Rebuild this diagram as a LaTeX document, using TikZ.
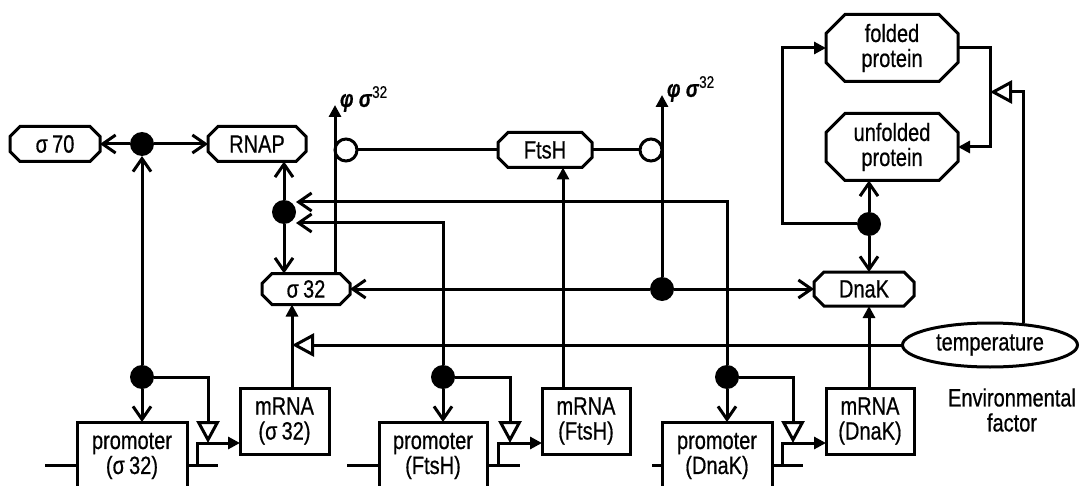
\documentclass[tikz,border=0pt]{standalone}
\usepackage{fontspec}
\setmainfont[FakeStretch=0.8,FakeBold=0.6]{Liberation Sans}
\usetikzlibrary{arrows.meta,shapes.geometric}
\tikzset{
  every node/.style={font=\fontsize{25}{25}\selectfont, align=center, inner sep=0pt, outer sep=0pt},
  octbox/.style={rectangle, draw=none},
  rbox/.style={rectangle, draw, fill=white},
  dot/.style={circle, fill, minimum size=24pt},
  ring/.style={circle, draw, fill=white, minimum size=22pt},
  oarr/.style={-{Straight Barb[length=13pt,width=18pt]}},
  farr/.style={-{Triangle[length=12pt,width=12pt]}},
  tarr/.style={-{Triangle[open,length=22pt,width=23pt]}},
  phil/.style={font=\fontsize{24}{24}\selectfont, anchor=west}
}
\newcommand{\octo}[2]{%
  \draw ([xshift=#2]#1.north west) -- ([xshift=-#2]#1.north east) -- ([yshift=-#2]#1.north east)
   -- ([yshift=#2]#1.south east) -- ([xshift=-#2]#1.south east) -- ([xshift=#2]#1.south west)
   -- ([yshift=#2]#1.south west) -- ([yshift=-#2]#1.north west) -- cycle;}
\begin{document}
\begin{tikzpicture}[x=1pt,y=-1pt,line width=3pt]
\useasboundingbox (0,0) rectangle (1083,486);
\clip (0,0) rectangle (1083,486);
% octagon nodes
\node[octbox,minimum width=90pt,minimum height=35pt] (s70) at (55,144) {σ\,70};
\node[octbox,minimum width=98pt,minimum height=35pt] (rnap) at (257,144) {RNAP};
\node[octbox,minimum width=88pt,minimum height=31pt] (s32) at (306,289) {σ\,32};
\node[octbox,minimum width=94pt,minimum height=35pt] (ftsh) at (545,150) {FtsH};
\node[octbox,minimum width=100pt,minimum height=34pt] (dnak) at (864,289) {DnaK};
\node[octbox,minimum width=132pt,minimum height=67pt] (fold) at (892,48) {folded\\protein};
\node[octbox,minimum width=132pt,minimum height=67pt] (unf) at (892,147) {unfolded\\protein};
\octo{s70}{10pt}
\octo{rnap}{10pt}
\octo{s32}{10pt}
\octo{ftsh}{10pt}
\octo{dnak}{10pt}
\octo{fold}{19pt}
\octo{unf}{19pt}
\node[ellipse,draw,minimum width=175pt,minimum height=44pt] (temp) at (990,345) {temperature};
\node (env) at (1012,410) {Environmental\\factor};
% boxes
\node[rbox,minimum width=110pt,minimum height=68pt] (p32) at (132,456) {promoter\\(σ\,32)};
\node[rbox,minimum width=108pt,minimum height=68pt] (pF) at (433,456) {promoter\\(FtsH)};
\node[rbox,minimum width=110pt,minimum height=68pt] (pK) at (717,456) {promoter\\(DnaK)};
\node[rbox,minimum width=89pt,minimum height=66pt] (m32) at (284.5,421) {mRNA\\(σ\,32)};
\node[rbox,minimum width=88pt,minimum height=66pt] (mF) at (586,421) {mRNA\\(FtsH)};
\node[rbox,minimum width=88pt,minimum height=66pt] (mK) at (870,421) {mRNA\\(DnaK)};
% dots
\node[dot] (d1) at (142,144) {};
\node[dot] (d2) at (284,212) {};
\node[dot] (d3) at (662,289) {};
\node[dot] (d4) at (869,224) {};
\node[dot] (q32) at (142,377) {};
\node[dot] (qF) at (443,377) {};
\node[dot] (qK) at (727,377) {};
\node[ring] (c1) at (346,150) {};
\node[ring] (c2) at (651,150) {};
% coordinates
\coordinate (phiL) at (335,105);
\coordinate (phiR) at (662,95);
\coordinate (t32) at (208,443);
\coordinate (tF) at (510,443);
\coordinate (tK) at (793,443);
\coordinate (b32) at (197,465);
\coordinate (bF) at (498,465);
\coordinate (bK) at (782,465);
\coordinate (jT) at (990,92);
\coordinate (l32a) at (45,465);
\coordinate (l32b) at (218,465);
\coordinate (lFa) at (347,465);
\coordinate (lFb) at (520,465);
\coordinate (lKa) at (652,465);
\coordinate (lKb) at (803,465);
% labels
\node[phil] (lbL) at (340,99) {\textbf{\textit{φ σ}}\textsuperscript{32}};
\node[phil] (lbR) at (667,89) {\textbf{\textit{φ σ}}\textsuperscript{32}};
% sigma70 / RNAP
\draw[oarr] (d1) -- (s70);
\draw[oarr] (d1) -- (rnap);
\draw[oarr] (q32) -- (d1);
\draw[oarr] (d2) -- (d2 |- rnap.south);
\draw[oarr] (d2) -- (d2 |- s32.north);
\draw[oarr] (qK) |- ([yshift=10pt]d2.east);
\draw[oarr] (qF) |- ([yshift=-11pt]d2.east);
% phi sigma32 and FtsH
\draw[farr] (s32.north -| phiL) -- (phiL);
\draw[farr] (d3) -- (phiR);
\draw (c1) -- (ftsh);
\draw (ftsh) -- (c2);
\draw[oarr] (d3) -- (s32);
\draw[oarr] (d3) -- (dnak);
% sigma32 gene
\draw[oarr] (q32) -- (q32 |- p32.north);
\draw[tarr] (q32) -| (t32);
\draw[farr] (b32) |- (m32.west |- t32);
\draw (l32a) -- (p32.west |- l32a);
\draw (p32.east |- l32a) -- (l32b);
\draw[farr] ([xshift=7.5pt]m32.north) -- ([xshift=7.5pt]m32.north |- s32.south);
\draw[tarr] (temp.west) -- ([xshift=7.5pt]m32.north |- temp.west);
% FtsH gene
\draw[oarr] (qF) -- (qF |- pF.north);
\draw[tarr] (qF) -| (tF);
\draw[farr] (bF) |- (mF.west |- tF);
\draw (lFa) -- (pF.west |- lFa);
\draw (pF.east |- lFa) -- (lFb);
\draw[farr] ([xshift=-23pt]mF.north) -- ([xshift=-23pt]mF.north |- ftsh.south);
% DnaK gene
\draw[oarr] (qK) -- (qK |- pK.north);
\draw[tarr] (qK) -| (tK);
\draw[farr] (bK) |- (mK.west |- tK);
\draw (lKa) -- (pK.west |- lKa);
\draw (pK.east |- lKa) -- (lKb);
\draw[farr] ([xshift=-1pt]mK.north) -- ([xshift=-1pt]mK.north |- dnak.south);
% protein folding
\draw[oarr] (d4) -- (d4 |- unf.south);
\draw[oarr] (d4) -- (d4 |- dnak.north);
\draw[farr] (d4) -- ++(-87,0) |- (fold.west);
\draw[farr] (fold.east) -- ++(32,0) |- (unf.east);
\draw[tarr] ([xshift=33pt]temp.north) |- (jT);
\end{tikzpicture}
\end{document}
